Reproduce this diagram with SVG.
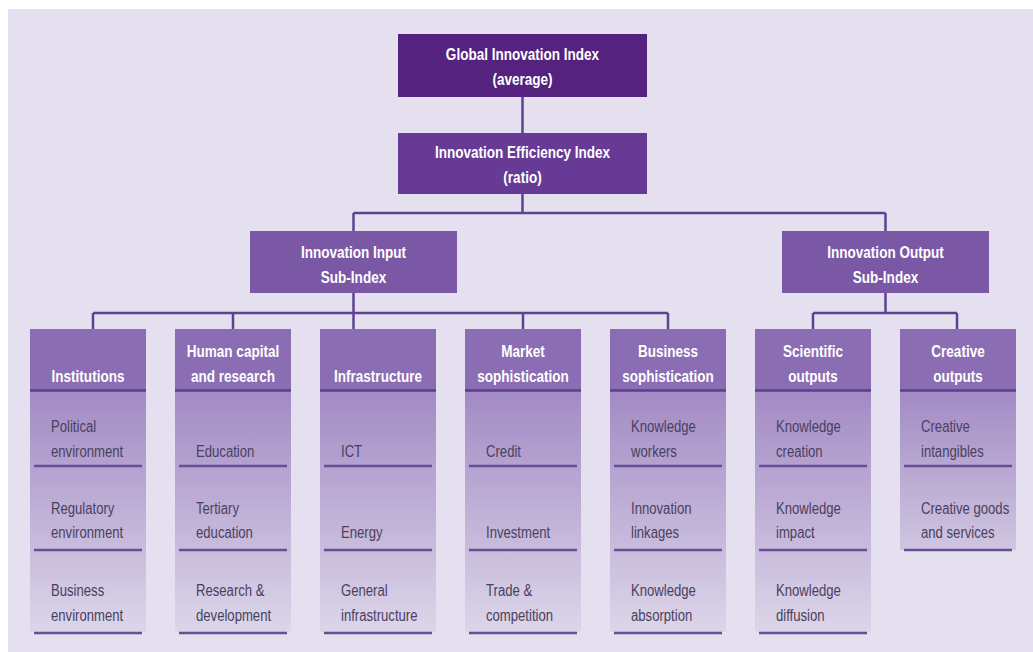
<svg xmlns="http://www.w3.org/2000/svg" width="1033" height="652" viewBox="0 0 1033 652">
<defs>
<linearGradient id="body" x1="0" y1="0" x2="0" y2="1">
<stop offset="0" stop-color="#a28ac4"/>
<stop offset="1" stop-color="#dcd6e9"/>
</linearGradient>
<linearGradient id="body2" x1="0" y1="0" x2="0" y2="1">
<stop offset="0" stop-color="#a28ac4"/>
<stop offset="1" stop-color="#cfc6e0"/>
</linearGradient>
<style>
.bt{font-family:'Liberation Sans',Arial,sans-serif;font-weight:bold;font-size:16.5px;fill:#ffffff;text-anchor:middle}
.st{font-family:'Liberation Sans',Arial,sans-serif;font-size:16px;fill:#4a3f5e}
.hd{fill:#8b6db3}
.hl{stroke:#5e3d8e;stroke-width:2.5}
.rl{stroke:#6a4c99;stroke-width:2.5}
.cn{stroke:#5e4290;stroke-width:2.5;fill:none}
</style>
</defs>
<rect x="0" y="0" width="1033" height="652" fill="#ffffff"/>
<rect x="8" y="9" width="1025" height="643" fill="#e4e0ef"/>

<g id="connectors">
<path class="cn" d="M522.5 97V133M522.5 194V213M353.5 213H885.5M353.5 213V231M885.5 213V231"/>
<path class="cn" d="M353.5 293V329M93 313H668M93 313V329M233 313V329M523 313V329M668 313V329"/>
<path class="cn" d="M885.5 293V313M813 313H957M813 313V329M957 313V329"/>
</g>

<g id="gii">
<rect x="398" y="34" width="249" height="63" fill="#55237f"/>
<text class="bt" transform="translate(522.5 60) scale(.82 1)">Global Innovation Index</text>
<text class="bt" transform="translate(522.5 85) scale(.82 1)">(average)</text>
</g>
<g id="efficiency">
<rect x="398" y="133" width="249" height="61" fill="#673b95"/>
<text class="bt" transform="translate(522.5 158) scale(.82 1)">Innovation Efficiency Index</text>
<text class="bt" transform="translate(522.5 183) scale(.82 1)">(ratio)</text>
</g>
<g id="input">
<rect x="250" y="231" width="207" height="62" fill="#7b58a5"/>
<text class="bt" transform="translate(353.5 258) scale(.82 1)">Innovation Input</text>
<text class="bt" transform="translate(353.5 283) scale(.82 1)">Sub-Index</text>
</g>
<g id="output">
<rect x="782" y="231" width="207" height="62" fill="#7b58a5"/>
<text class="bt" transform="translate(885.5 258) scale(.82 1)">Innovation Output</text>
<text class="bt" transform="translate(885.5 283) scale(.82 1)">Sub-Index</text>
</g>

<g id="institutions">
<rect x="30" y="390" width="116" height="242" fill="url(#body)"/>
<rect class="hd" x="30" y="329" width="116" height="61"/>
<line class="hl" x1="30" y1="390.5" x2="146" y2="390.5"/>
<text class="bt" transform="translate(88 382) scale(.82 1)">Institutions</text>
<text class="st" transform="translate(51 432) scale(.82 1)">Political</text>
<text class="st" transform="translate(51 457) scale(.82 1)">environment</text>
<line class="rl" x1="34" y1="466" x2="142" y2="466"/>
<text class="st" transform="translate(51 514) scale(.82 1)">Regulatory</text>
<text class="st" transform="translate(51 538) scale(.82 1)">environment</text>
<line class="rl" x1="34" y1="550" x2="142" y2="550"/>
<text class="st" transform="translate(51 596) scale(.82 1)">Business</text>
<text class="st" transform="translate(51 621) scale(.82 1)">environment</text>
<line class="rl" x1="34" y1="633" x2="142" y2="633"/>
</g>

<g id="human">
<rect x="175" y="390" width="116" height="242" fill="url(#body)"/>
<rect class="hd" x="175" y="329" width="116" height="61"/>
<line class="hl" x1="175" y1="390.5" x2="291" y2="390.5"/>
<text class="bt" transform="translate(233 357) scale(.82 1)">Human capital</text>
<text class="bt" transform="translate(233 382) scale(.82 1)">and research</text>
<text class="st" transform="translate(196 457) scale(.82 1)">Education</text>
<line class="rl" x1="179" y1="466" x2="287" y2="466"/>
<text class="st" transform="translate(196 514) scale(.82 1)">Tertiary</text>
<text class="st" transform="translate(196 538) scale(.82 1)">education</text>
<line class="rl" x1="179" y1="550" x2="287" y2="550"/>
<text class="st" transform="translate(196 596) scale(.82 1)">Research &amp;</text>
<text class="st" transform="translate(196 621) scale(.82 1)">development</text>
<line class="rl" x1="179" y1="633" x2="287" y2="633"/>
</g>

<g id="infrastructure">
<rect x="320" y="390" width="116" height="242" fill="url(#body)"/>
<rect class="hd" x="320" y="329" width="116" height="61"/>
<line class="hl" x1="320" y1="390.5" x2="436" y2="390.5"/>
<text class="bt" transform="translate(378 382) scale(.82 1)">Infrastructure</text>
<text class="st" transform="translate(341 457) scale(.82 1)">ICT</text>
<line class="rl" x1="324" y1="466" x2="432" y2="466"/>
<text class="st" transform="translate(341 538) scale(.82 1)">Energy</text>
<line class="rl" x1="324" y1="550" x2="432" y2="550"/>
<text class="st" transform="translate(341 596) scale(.82 1)">General</text>
<text class="st" transform="translate(341 621) scale(.82 1)">infrastructure</text>
<line class="rl" x1="324" y1="633" x2="432" y2="633"/>
</g>

<g id="market">
<rect x="465" y="390" width="116" height="242" fill="url(#body)"/>
<rect class="hd" x="465" y="329" width="116" height="61"/>
<line class="hl" x1="465" y1="390.5" x2="581" y2="390.5"/>
<text class="bt" transform="translate(523 357) scale(.82 1)">Market</text>
<text class="bt" transform="translate(523 382) scale(.82 1)">sophistication</text>
<text class="st" transform="translate(486 457) scale(.82 1)">Credit</text>
<line class="rl" x1="469" y1="466" x2="577" y2="466"/>
<text class="st" transform="translate(486 538) scale(.82 1)">Investment</text>
<line class="rl" x1="469" y1="550" x2="577" y2="550"/>
<text class="st" transform="translate(486 596) scale(.82 1)">Trade &amp;</text>
<text class="st" transform="translate(486 621) scale(.82 1)">competition</text>
<line class="rl" x1="469" y1="633" x2="577" y2="633"/>
</g>

<g id="business">
<rect x="610" y="390" width="116" height="242" fill="url(#body)"/>
<rect class="hd" x="610" y="329" width="116" height="61"/>
<line class="hl" x1="610" y1="390.5" x2="726" y2="390.5"/>
<text class="bt" transform="translate(668 357) scale(.82 1)">Business</text>
<text class="bt" transform="translate(668 382) scale(.82 1)">sophistication</text>
<text class="st" transform="translate(631 432) scale(.82 1)">Knowledge</text>
<text class="st" transform="translate(631 457) scale(.82 1)">workers</text>
<line class="rl" x1="614" y1="466" x2="722" y2="466"/>
<text class="st" transform="translate(631 514) scale(.82 1)">Innovation</text>
<text class="st" transform="translate(631 538) scale(.82 1)">linkages</text>
<line class="rl" x1="614" y1="550" x2="722" y2="550"/>
<text class="st" transform="translate(631 596) scale(.82 1)">Knowledge</text>
<text class="st" transform="translate(631 621) scale(.82 1)">absorption</text>
<line class="rl" x1="614" y1="633" x2="722" y2="633"/>
</g>

<g id="scientific">
<rect x="755" y="390" width="116" height="242" fill="url(#body)"/>
<rect class="hd" x="755" y="329" width="116" height="61"/>
<line class="hl" x1="755" y1="390.5" x2="871" y2="390.5"/>
<text class="bt" transform="translate(813 357) scale(.82 1)">Scientific</text>
<text class="bt" transform="translate(813 382) scale(.82 1)">outputs</text>
<text class="st" transform="translate(776 432) scale(.82 1)">Knowledge</text>
<text class="st" transform="translate(776 457) scale(.82 1)">creation</text>
<line class="rl" x1="759" y1="466" x2="867" y2="466"/>
<text class="st" transform="translate(776 514) scale(.82 1)">Knowledge</text>
<text class="st" transform="translate(776 538) scale(.82 1)">impact</text>
<line class="rl" x1="759" y1="550" x2="867" y2="550"/>
<text class="st" transform="translate(776 596) scale(.82 1)">Knowledge</text>
<text class="st" transform="translate(776 621) scale(.82 1)">diffusion</text>
<line class="rl" x1="759" y1="633" x2="867" y2="633"/>
</g>

<g id="creative">
<rect x="900" y="390" width="116" height="160" fill="url(#body2)"/>
<rect class="hd" x="900" y="329" width="116" height="61"/>
<line class="hl" x1="900" y1="390.5" x2="1016" y2="390.5"/>
<text class="bt" transform="translate(958 357) scale(.82 1)">Creative</text>
<text class="bt" transform="translate(958 382) scale(.82 1)">outputs</text>
<text class="st" transform="translate(921 432) scale(.82 1)">Creative</text>
<text class="st" transform="translate(921 457) scale(.82 1)">intangibles</text>
<line class="rl" x1="904" y1="466" x2="1012" y2="466"/>
<text class="st" transform="translate(921 514) scale(.82 1)">Creative goods</text>
<text class="st" transform="translate(921 538) scale(.82 1)">and services</text>
<line class="rl" x1="904" y1="550" x2="1012" y2="550"/>
</g>
</svg>
